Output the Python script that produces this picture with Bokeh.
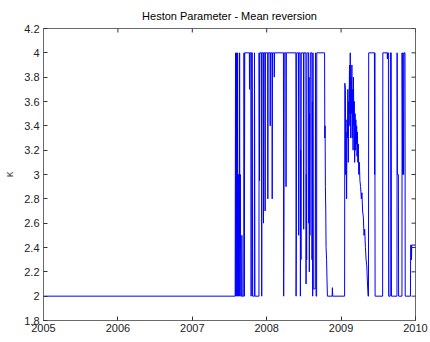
from bokeh.plotting import figure
from bokeh.models import Range1d, FixedTicker, CustomJSTickFormatter
from bokeh.embed import file_html
from bokeh.resources import INLINE

title_text = "Heston Parameter - Mean reversion"
y_label = "κ"
x_ticks = [2005, 2006, 2007, 2008, 2009, 2010]
y_ticks = [1.8, 2.0, 2.2, 2.4, 2.6, 2.8, 3.0, 3.2, 3.4, 3.6, 3.8, 4.0, 4.2]

years = [
    2005.000, 2007.576, 2007.581, 2007.585, 2007.589, 2007.593, 2007.597, 2007.601,
    2007.605, 2007.609, 2007.613, 2007.619, 2007.623, 2007.627, 2007.632, 2007.636,
    2007.640, 2007.646, 2007.650, 2007.663, 2007.666, 2007.670, 2007.693, 2007.695,
    2007.699, 2007.705, 2007.767, 2007.769, 2007.772, 2007.788, 2007.791, 2007.793,
    2007.807, 2007.810, 2007.834, 2007.836, 2007.842, 2007.896, 2007.898, 2007.904,
    2007.908, 2007.931, 2007.933, 2007.937, 2007.955, 2007.957, 2007.961, 2007.976,
    2007.979, 2007.983, 2008.013, 2008.015, 2008.019, 2008.045, 2008.047, 2008.051,
    2008.071, 2008.074, 2008.078, 2008.099, 2008.102, 2008.106, 2008.225, 2008.228,
    2008.232, 2008.236, 2008.258, 2008.260, 2008.264, 2008.392, 2008.395, 2008.399,
    2008.403, 2008.427, 2008.430, 2008.434, 2008.450, 2008.453, 2008.457, 2008.461,
    2008.465, 2008.494, 2008.497, 2008.501, 2008.527, 2008.529, 2008.533, 2008.537,
    2008.541, 2008.563, 2008.565, 2008.569, 2008.573, 2008.577, 2008.581, 2008.587,
    2008.607, 2008.609, 2008.614, 2008.618, 2008.622, 2008.626, 2008.652, 2008.656,
    2008.660, 2008.664, 2008.671, 2008.673, 2008.778, 2008.781, 2008.785, 2008.789,
    2008.794, 2008.798, 2008.805, 2008.810, 2008.816, 2008.880, 2008.883, 2008.887,
    2009.047, 2009.050, 2009.058, 2009.062, 2009.067, 2009.074, 2009.079, 2009.086,
    2009.091, 2009.097, 2009.102, 2009.107, 2009.113, 2009.118, 2009.123, 2009.129,
    2009.134, 2009.139, 2009.145, 2009.150, 2009.156, 2009.161, 2009.166, 2009.172,
    2009.177, 2009.182, 2009.188, 2009.193, 2009.198, 2009.204, 2009.209, 2009.214,
    2009.220, 2009.225, 2009.232, 2009.238, 2009.245, 2009.253, 2009.262, 2009.272,
    2009.280, 2009.289, 2009.299, 2009.308, 2009.317, 2009.327, 2009.336, 2009.345,
    2009.355, 2009.363, 2009.368, 2009.371, 2009.448, 2009.451, 2009.453, 2009.457,
    2009.558, 2009.561, 2009.620, 2009.622, 2009.625, 2009.636, 2009.639, 2009.660,
    2009.663, 2009.674, 2009.677, 2009.751, 2009.753, 2009.757, 2009.770, 2009.773,
    2009.818, 2009.820, 2009.827, 2009.832, 2009.840, 2009.846, 2009.859, 2009.862,
    2009.932, 2009.935, 2009.943, 2009.946, 2009.950, 2010.000,
]

kappa = [
    2.00, 2.00, 4.00, 2.00, 3.00, 4.00, 2.00, 3.00,
    2.00, 4.00, 2.20, 3.00, 2.00, 3.00, 2.00, 4.00,
    2.40, 3.00, 2.00, 2.00, 2.50, 2.00, 2.00, 4.00,
    2.00, 4.00, 4.00, 3.70, 4.00, 4.00, 2.00, 4.00,
    4.00, 2.00, 2.00, 4.00, 2.00, 2.00, 4.00, 2.95,
    4.00, 4.00, 2.00, 4.00, 4.00, 2.60, 4.00, 4.00,
    2.70, 4.00, 4.00, 2.80, 4.00, 4.00, 3.40, 4.00,
    4.00, 2.80, 4.00, 4.00, 3.80, 4.00, 4.00, 2.00,
    2.60, 4.00, 4.00, 2.90, 4.00, 4.00, 2.00, 2.50,
    4.00, 4.00, 2.50, 4.00, 4.00, 2.00, 3.20, 2.30,
    4.00, 4.00, 2.55, 4.00, 4.00, 2.10, 3.00, 2.30,
    4.00, 4.00, 2.60, 3.80, 2.20, 3.50, 2.50, 4.00,
    4.00, 2.30, 3.60, 2.00, 4.00, 2.06, 2.06, 4.00,
    2.80, 2.00, 2.00, 4.00, 4.00, 3.30, 3.40, 2.90,
    2.70, 2.40, 2.30, 2.15, 2.00, 2.00, 2.07, 2.00,
    2.00, 3.75, 3.70, 3.00, 3.35, 2.80, 3.45, 3.30,
    3.70, 3.10, 3.60, 3.50, 3.90, 3.40, 4.00, 3.30,
    3.80, 3.50, 3.90, 3.30, 3.70, 3.20, 3.80, 3.40,
    3.60, 3.10, 3.50, 3.20, 3.45, 3.25, 3.40, 3.15,
    3.35, 3.10, 3.25, 3.00, 3.10, 2.95, 2.90, 2.80,
    2.85, 2.70, 2.65, 2.50, 2.55, 2.40, 2.30, 2.25,
    2.10, 2.00, 2.00, 4.00, 4.00, 3.00, 4.00, 2.00,
    2.00, 4.00, 4.00, 3.95, 4.00, 4.00, 2.00, 2.00,
    4.00, 4.00, 2.00, 2.00, 4.00, 3.00, 3.00, 2.00,
    2.00, 4.00, 3.00, 4.00, 3.00, 4.00, 4.00, 2.00,
    2.00, 2.42, 2.42, 2.30, 2.42, 2.42,
]

axis_color = "#6a6a6a"
tick_color = "#333333"
font = "Liberation Sans"

p = figure(width=430, height=342, output_backend="svg", toolbar_location=None,
           x_range=Range1d(x_ticks[0], x_ticks[-1]), y_range=Range1d(y_ticks[0], y_ticks[-1]),
           title=title_text, min_border_left=43, min_border_right=15,
           min_border_top=27, min_border_bottom=22)
p.background_fill_color = "white"
p.border_fill_color = "white"
p.outline_line_color = axis_color
p.grid.visible = False

p.title.text_font = font
p.title.text_font_size = "11px"
p.title.text_font_style = "normal"
p.title.text_color = "#000000"
p.title.align = "center"
p.title.standoff = 14

p.line(years, kappa, line_color="#0000ff", line_width=1)

# inward tick marks on the top and right edges of the box (clipped to the frame)
p.scatter(x=x_ticks, y=[y_ticks[-1]] * len(x_ticks), marker="dash", size=8,
          angle=1.5708, line_color=tick_color, line_width=1)
p.scatter(x=[x_ticks[-1]] * len(y_ticks), y=y_ticks, marker="dash", size=8,
          line_color=tick_color, line_width=1)

fmt_y = CustomJSTickFormatter(code="return tick.toFixed(1).replace(/\\.0$/, '');")
fmt_x = CustomJSTickFormatter(code="return tick.toFixed(0);")

def style(ax, ticks):
    ax.ticker = FixedTicker(ticks=ticks)
    ax.major_tick_in = 4
    ax.major_tick_out = 0
    ax.minor_tick_line_color = None
    ax.axis_line_color = axis_color
    ax.major_tick_line_color = tick_color
    ax.major_label_text_font = font
    ax.major_label_text_font_size = "11px"
    ax.major_label_text_color = "#222222"

xa = p.xaxis[0]
style(xa, x_ticks)
xa.formatter = fmt_x
xa.major_label_standoff = 3

ya = p.yaxis[0]
style(ya, y_ticks)
ya.formatter = fmt_y
ya.major_label_standoff = 4
ya.axis_label = y_label
ya.axis_label_text_font = font
ya.axis_label_text_font_size = "11px"
ya.axis_label_text_font_style = "normal"
ya.axis_label_standoff = 6

open("out.html", "w").write(file_html(p, INLINE))
